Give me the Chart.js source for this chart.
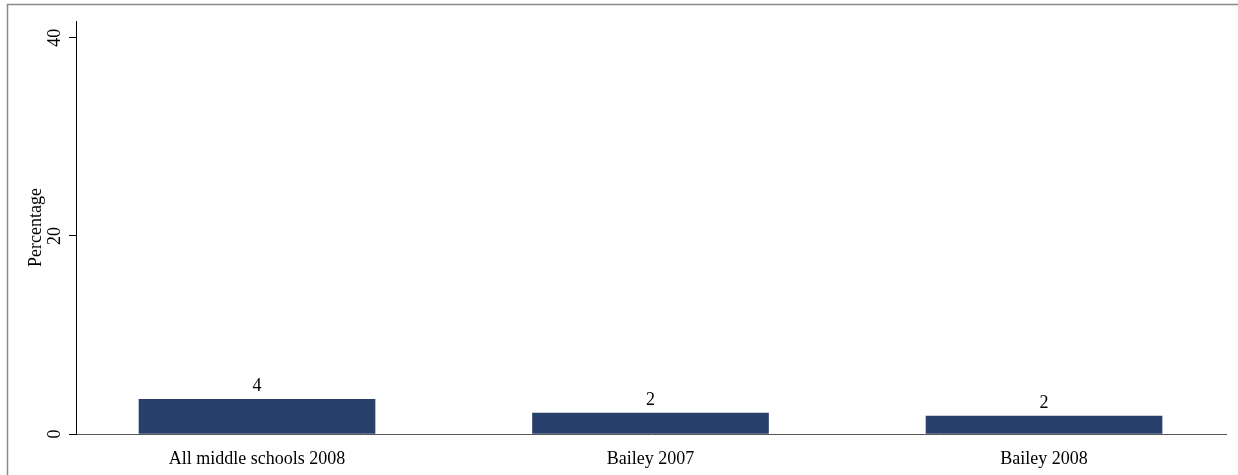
<!DOCTYPE html>
<html>
<head>
<meta charset="utf-8">
<script src="https://cdn.jsdelivr.net/npm/chart.js@4"></script>
<style>
html,body{margin:0;padding:0;background:#fff;}
#wrap{width:1238px;height:475px;position:relative;}
</style>
</head>
<body>
<div id="wrap"><canvas id="c" width="1238" height="475"></canvas></div>
<script>
const categories = ["All middle schools 2008", "Bailey 2007", "Bailey 2008"];
const percentages = [3.5, 2.1, 1.8];
const valueLabels = ["4", "2", "2"];
const yTicks = [0, 20, 40];

const FONT = "'Liberation Serif', 'Times New Roman', serif";

const frame = {
  id: 'frame',
  beforeDraw(chart) {
    const ctx = chart.ctx;
    ctx.save();
    ctx.fillStyle = '#fff';
    ctx.fillRect(0, 0, chart.width, chart.height);
    ctx.strokeStyle = '#8a8a8a';
    ctx.lineWidth = 1.5;
    ctx.strokeRect(7.5, 4.5, 1400, 600);
    ctx.restore();
  },
  afterDraw(chart) {
    const ctx = chart.ctx;
    ctx.save();
    const ys = chart.scales.y;
    ctx.fillStyle = '#000';
    ctx.font = '18px ' + FONT;
    ctx.textAlign = 'center';
    ctx.textBaseline = 'middle';
    yTicks.forEach(v => {
      const py = ys.getPixelForValue(v);
      ctx.save();
      ctx.translate(55, py);
      ctx.rotate(-Math.PI / 2);
      ctx.fillText(String(v), 0, 0);
      ctx.restore();
    });
    const meta = chart.getDatasetMeta(0);
    ctx.textBaseline = 'alphabetic';
    meta.data.forEach((bar, i) => {
      ctx.fillText(valueLabels[i], bar.x, bar.y - 8);
    });
    ctx.restore();
  }
};

new Chart(document.getElementById('c'), {
  type: 'bar',
  data: {
    datasets: [{
      data: percentages.map((v, i) => ({ x: i, y: v })),
      backgroundColor: '#29406d',
      borderWidth: 0,
      barThickness: 236
    }]
  },
  options: {
    responsive: false,
    animation: false,
    devicePixelRatio: 1,
    layout: { padding: { top: 21, right: 12, left: 0, bottom: 0 } },
    plugins: { legend: { display: false }, tooltip: { enabled: false } },
    scales: {
      x: {
        type: 'linear',
        offset: false,
        min: -0.46,
        max: 2.4625,
        afterBuildTicks(scale) { scale.ticks = [0, 1, 2].map(v => ({ value: v })); },
        afterFit(scale) { scale.height = 41; },
        grid: { display: false },
        border: { display: true, color: '#555', width: 1 },
        ticks: {
          padding: 6,
          color: '#000',
          font: { family: FONT, size: 18 },
          maxRotation: 0,
          autoSkip: false,
          callback: (v) => categories[v] ?? ''
        }
      },
      y: {
        min: 0,
        max: 41.7,
        afterBuildTicks(scale) { scale.ticks = yTicks.map(v => ({ value: v })); },
        afterFit(scale) { scale.width = 76; },
        grid: { drawOnChartArea: false, color: '#000', tickLength: 7, tickWidth: 1 },
        border: { display: true, color: '#000', width: 1 },
        ticks: { display: false },
        title: {
          display: true,
          text: 'Percentage',
          color: '#000',
          font: { family: FONT, size: 18 },
          padding: { top: 25, bottom: 0 }
        }
      }
    }
  },
  plugins: [frame]
});
</script>
</body>
</html>
